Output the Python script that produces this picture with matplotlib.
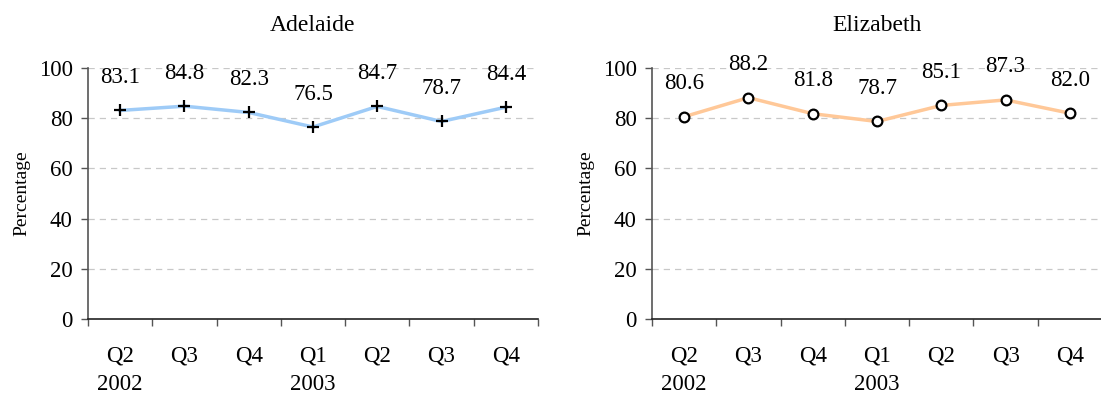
import matplotlib
matplotlib.use("Agg")
import matplotlib.pyplot as plt
import numpy as np

quarters = ["Q2", "Q3", "Q4", "Q1", "Q2", "Q3", "Q4"]
years = ["2002", "", "", "2003", "", "", ""]
adelaide = [83.1, 84.8, 82.3, 76.5, 84.7, 78.7, 84.4]
elizabeth = [80.6, 88.2, 81.8, 78.7, 85.1, 87.3, 82.0]

plt.rcParams["font.family"] = ["Liberation Serif", "DejaVu Serif"]
plt.rcParams["font.size"] = 16

fig = plt.figure(figsize=(11.01, 3.96), dpi=100)
ax_l = fig.add_axes([0.0799, 0.1944, 0.4087, 0.6338])
ax_r = fig.add_axes([0.5922, 0.1944, 0.4087, 0.6338])

tick_labels = [f"{q}\n{y}" if y else q for q, y in zip(quarters, years)]


def draw(ax, title, values, color, marker, mfc):
    x = np.arange(len(values))
    ax.plot(x, values, color=color, lw=2.5, zorder=2)
    ax.plot(x, values, ls="none", marker=marker, markersize=9 if marker == "+" else 7,
            mew=1.6, mec="black", mfc=mfc, color="black", zorder=3)
    for xi, v in zip(x, values):
        ax.annotate(f"{v:.1f}", (xi, v), xytext=(0, 33), textcoords="offset pixels",
                    ha="center", va="center", fontsize=16.5)
    ax.set_xlim(-0.5, len(values) - 0.5)
    ax.set_ylim(0, 100)
    ax.set_yticks([0, 20, 40, 60, 80, 100])
    ax.set_xticks(x)
    ax.set_xticklabels(tick_labels, linespacing=1.45, fontsize=16.5)
    ax.set_xticks(np.arange(len(values) + 1) - 0.5, minor=True)
    ax.tick_params(axis="x", which="major", length=0, pad=19)
    ax.tick_params(axis="x", which="minor", length=5, width=1, color="#555555")
    ax.tick_params(axis="y", length=5, width=1, color="#555555", pad=6, labelsize=16.5)
    for yv in [20, 40, 60, 80, 100]:
        ax.axhline(yv, color="#c8c8c8", lw=0.9, ls=(0, (5, 4)), zorder=1)
    for s in ["top", "right"]:
        ax.spines[s].set_visible(False)
    ax.spines["left"].set_color("#555555")
    ax.spines["bottom"].set_color("#222222")
    ax.spines["left"].set_linewidth(1.2)
    ax.spines["bottom"].set_linewidth(1.2)
    ax.set_ylabel("Percentage", fontsize=14, labelpad=6)
    ax.set_title(title, fontsize=17, pad=27)


draw(ax_l, "Adelaide", adelaide, "#9ecbf7", "+", "none")
draw(ax_r, "Elizabeth", elizabeth, "#ffc898", "o", "white")

fig.savefig("out.png", dpi=100)
